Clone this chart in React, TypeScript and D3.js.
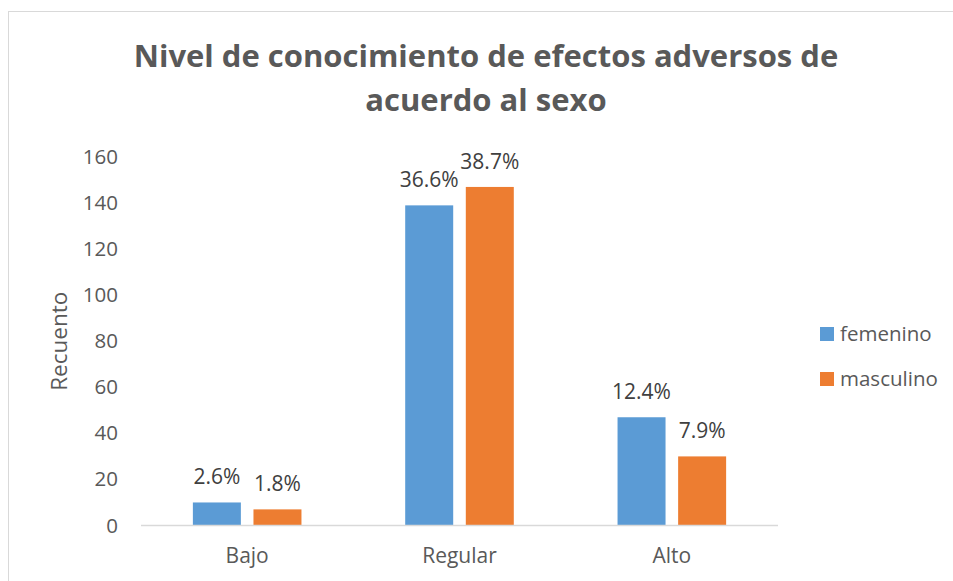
import * as d3 from 'd3';

const categories = ['Bajo', 'Regular', 'Alto'];
const seriesNames = ['femenino', 'masculino'];
const femenino = [10, 139, 47];
const masculino = [7, 147, 30];
const femeninoPct = ['2.6%', '36.6%', '12.4%'];
const masculinoPct = ['1.8%', '38.7%', '7.9%'];
const yTicks = [0, 20, 40, 60, 80, 100, 120, 140, 160];
const titleLines = ['Nivel de conocimiento de efectos adversos de', 'acuerdo al sexo'];

const W = 953;
const H = 581;
const colors = ['#5B9BD5', '#ED7D31'];
const font = '"Open Sans", Lato, sans-serif';
const textColor = '#595959';
const fs = 21;

const plot = { left: 141, right: 778, top: 157, bottom: 525.5 };

export default function App() {
  const x0 = d3.scaleBand<string>().domain(categories).range([plot.left, plot.right]);
  const x1 = d3
    .scaleBand<string>()
    .domain(seriesNames)
    .range([0, x0.bandwidth()])
    .paddingInner(0.208)
    .paddingOuter(0.856);
  const y = d3.scaleLinear().domain([0, 160]).range([plot.bottom, plot.top]);

  const series = [
    { name: seriesNames[0], values: femenino, labels: femeninoPct },
    { name: seriesNames[1], values: masculino, labels: masculinoPct },
  ];

  return (
    <svg
      width={W}
      height={H}
      style={{ position: 'absolute', left: 0, top: 0, background: '#fff' }}
      fontFamily={font}
    >
      <rect x={8.5} y={11.5} width={W + 10} height={H + 10} fill="#fff" stroke="#d9d9d9" />

      {titleLines.map((t, i) => (
        <text
          key={t}
          x={486}
          y={67 + i * 44}
          textAnchor="middle"
          fontSize={31}
          fontWeight="bold"
          fill={textColor}
        >
          {t}
        </text>
      ))}

      {yTicks.map((t) => (
        <text key={t} x={118} y={y(t) + 7} textAnchor="end" fontSize={20.5} fill={textColor}>
          {t}
        </text>
      ))}

      <text
        transform={`translate(67,${(plot.top + plot.bottom) / 2}) rotate(-90)`}
        textAnchor="middle"
        fontSize={22.5}
        fill={textColor}
      >
        Recuento
      </text>

      {series.map((s, si) =>
        categories.map((c, ci) => {
          const bx = (x0(c) ?? 0) + (x1(s.name) ?? 0);
          const by = y(s.values[ci]);
          return (
            <g key={s.name + c}>
              <rect
                x={bx}
                y={by}
                width={x1.bandwidth()}
                height={plot.bottom - by}
                fill={colors[si]}
              />
              <text
                x={bx + x1.bandwidth() / 2}
                y={by - 18}
                textAnchor="middle"
                fontSize={fs}
                fill="#404040"
              >
                {s.labels[ci]}
              </text>
            </g>
          );
        })
      )}

      <line x1={plot.left} x2={plot.right} y1={plot.bottom} y2={plot.bottom} stroke="#d9d9d9" strokeWidth={1.5} />

      {categories.map((c) => (
        <text
          key={c}
          x={(x0(c) ?? 0) + x0.bandwidth() / 2}
          y={563}
          textAnchor="middle"
          fontSize={fs}
          fill={textColor}
        >
          {c}
        </text>
      ))}

      {seriesNames.map((n, i) => (
        <g key={n} transform={`translate(820,${327 + i * 45})`}>
          <rect width={14} height={14} fill={colors[i]} />
          <text x={20} y={14} fontSize={20.5} fill={textColor}>
            {n}
          </text>
        </g>
      ))}
    </svg>
  );
}
